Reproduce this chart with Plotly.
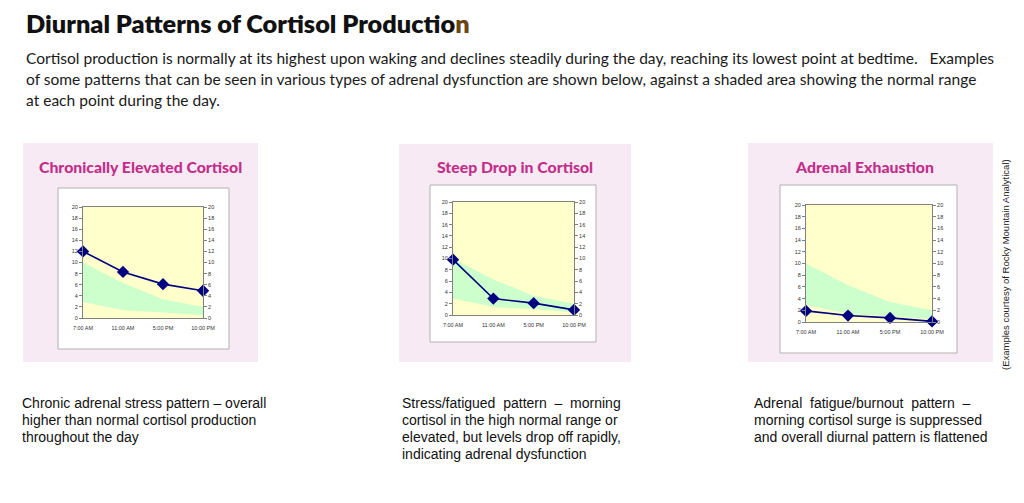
import plotly.graph_objects as go

W, H = 1024, 503
OFF = 8  # page body margin compensation
def px(x): return (x - OFF) / W
def py(y): return 1 - (y - OFF) / H

# ---------------- data ----------------
times = ["7:00 AM", "11:00 AM", "5:00 PM", "10:00 PM"]
x_idx = [0, 1, 2, 3]
normal_low = [2.9, 1.4, 1.0, 0.5]
normal_high = [10.0, 6.3, 3.4, 2.0]
elevated = [12.0, 8.3, 6.1, 4.9]
steep_drop = [9.8, 2.9, 2.1, 0.9]
exhaustion = [1.9, 1.1, 0.7, 0.1]
y_ticks = list(range(0, 21, 2))

panel_titles = ["Chronically Elevated Cortisol", "Steep Drop in Cortisol", "Adrenal Exhaustion"]
series = [elevated, steep_drop, exhaustion]

captions = [
    ["Chronic adrenal stress pattern \u2013 overall",
     "higher than normal cortisol production",
     "throughout the day"],
    ["Stress/fatigued\u00a0\u00a0pattern\u00a0\u00a0\u2013\u00a0\u00a0morning",
     "cortisol in the high normal range or",
     "elevated, but levels drop off rapidly,",
     "indicating adrenal dysfunction"],
    ["Adrenal\u00a0\u00a0fatigue/burnout\u00a0\u00a0pattern\u00a0\u00a0\u2013",
     "morning cortisol surge is suppressed",
     "and overall diurnal pattern is flattened"],
]

# ---------------- layout geometry (pixels) ----------------
pink = [(23, 143, 258, 362), (399, 144, 631, 362), (748, 143, 993, 362)]
white = [(58, 188, 229, 349), (430, 185, 596, 342), (780, 185, 957, 353)]
plots = [(83, 207, 203, 318), (453, 202, 574, 315), (806, 205, 932, 322)]
title_pos = [(140, 167), (515, 167), (864, 166)]
caption_x = [20, 400, 752]

fig = go.Figure()
shapes = []
annotations = []
layout = {}

for i in range(3):
    xa = f"x{i+1}" if i else "x"
    ya_l = f"y{2*i+1}" if i else "y"
    ya_r = f"y{2*i+2}"
    xname = f"xaxis{i+1}" if i else "xaxis"
    yl_name = f"yaxis{2*i+1}" if i else "yaxis"
    yr_name = f"yaxis{2*i+2}"

    # normal band
    fig.add_trace(go.Scatter(x=x_idx, y=normal_low, mode="lines", line=dict(width=0, color="#ccffcc"),
                             xaxis=xa, yaxis=ya_l, showlegend=False, hoverinfo="skip"))
    fig.add_trace(go.Scatter(x=x_idx, y=normal_high, mode="lines", line=dict(width=0, color="#ccffcc"),
                             fill="tonexty", fillcolor="#ccffcc",
                             xaxis=xa, yaxis=ya_l, showlegend=False, hoverinfo="skip"))
    # pattern series
    fig.add_trace(go.Scatter(x=x_idx, y=series[i], mode="lines+markers",
                             line=dict(color="#000080", width=1.6),
                             marker=dict(symbol="diamond", size=9.5, color="#000080"),
                             cliponaxis=False, xaxis=xa, yaxis=ya_l, showlegend=False))

    l, t, r, b = plots[i]
    tickfont = dict(family="Arial", size=5.5, color="#333333")
    layout[xname] = dict(domain=[px(l), px(r)], range=[0, 3], anchor=ya_l,
                         tickvals=x_idx, ticktext=times, tickfont=tickfont, ticklabelstandoff=4,
                         showline=True, linecolor="#808080", linewidth=1, mirror=True,
                         ticks="", showgrid=False, zeroline=False, automargin=False)
    layout[yl_name] = dict(domain=[py(b), py(t)], range=[0, 20], anchor=xa,
                           tickvals=y_ticks, tickfont=tickfont,
                           showline=True, linecolor="#808080", linewidth=1,
                           ticks="outside", ticklen=3, tickcolor="#808080",
                           showgrid=False, zeroline=False, automargin=False)
    layout[yr_name] = dict(domain=[py(b), py(t)], range=[0, 20], anchor=xa,
                           overlaying=ya_l, side="right",
                           tickvals=y_ticks, tickfont=tickfont,
                           showline=True, linecolor="#808080", linewidth=1,
                           ticks="outside", ticklen=3, tickcolor="#808080",
                           showgrid=False, zeroline=False, automargin=False)
    # invisible trace so the right axis is drawn
    fig.add_trace(go.Scatter(x=[0], y=[0], mode="markers", marker=dict(opacity=0),
                             xaxis=xa, yaxis=ya_r, showlegend=False, hoverinfo="skip"))

    # pink panel + white chart box + yellow plot background
    pl, pt, pr, pb = pink[i]
    shapes.append(dict(type="rect", xref="paper", yref="paper", x0=px(pl), x1=px(pr), y0=py(pb), y1=py(pt),
                       fillcolor="#f8eaf4", line=dict(width=0), layer="below"))
    wl, wt, wr, wb = white[i]
    shapes.append(dict(type="rect", xref="paper", yref="paper", x0=px(wl), x1=px(wr), y0=py(wb), y1=py(wt),
                       fillcolor="#ffffff", line=dict(width=1, color="#b0b0b0"), layer="below"))
    shapes.append(dict(type="rect", xref="paper", yref="paper", x0=px(l), x1=px(r), y0=py(b), y1=py(t),
                       fillcolor="#ffffcc", line=dict(width=0), layer="below"))

    tx, ty = title_pos[i]
    annotations.append(dict(text=panel_titles[i], x=px(tx), y=py(ty), xref="paper", yref="paper",
                            xanchor="center", yanchor="middle", showarrow=False,
                            font=dict(family="Lato", size=15.8, weight=900, color="#c22f8a")))
    for k, line in enumerate(captions[i]):
        annotations.append(dict(text=line, x=px(caption_x[i]), y=py(403 + 17 * k), xref="paper", yref="paper",
                                xanchor="left", yanchor="middle", showarrow=False,
                                font=dict(family="Liberation Sans Narrow, Liberation Sans, Arial, sans-serif",
                                          size=14, color="#111111")))

# page title & intro text
annotations.append(dict(text="Diurnal Patterns of Cortisol Productio<span style='color:#6b4516'>n</span>",
                        x=px(24), y=py(23), xref="paper", yref="paper", xanchor="left", yanchor="middle",
                        showarrow=False, font=dict(family="Lato", size=25.3, weight=800, color="#111111")))
intro = [
    "Cortisol production is normally at its highest upon waking and declines steadily during the day, reaching its lowest point at bedtime.\u00a0\u00a0 Examples",
    "of some patterns that can be seen in various types of adrenal dysfunction are shown below, against a shaded area showing the normal range",
    "at each point during the day.",
]
for k, line in enumerate(intro):
    annotations.append(dict(text=line, x=px(24), y=py(58 + 21 * k), xref="paper", yref="paper",
                            xanchor="left", yanchor="middle", showarrow=False,
                            font=dict(family="Lato", size=15.55, color="#1a1a1a")))

annotations.append(dict(text="(Examples courtesy of Rocky Mountain Analytical)", textangle=-90,
                        x=px(1005), y=py(265), xref="paper", yref="paper", xanchor="center", yanchor="middle",
                        showarrow=False, font=dict(family="Arial", size=9.5, color="#222222")))

fig.update_layout(template="none", width=W, height=H,
                  margin=dict(l=0, r=0, t=0, b=0, pad=0, autoexpand=False),
                  paper_bgcolor="#ffffff", plot_bgcolor="rgba(0,0,0,0)",
                  shapes=shapes, annotations=annotations, showlegend=False, **layout)

fig.write_html("out.html")
